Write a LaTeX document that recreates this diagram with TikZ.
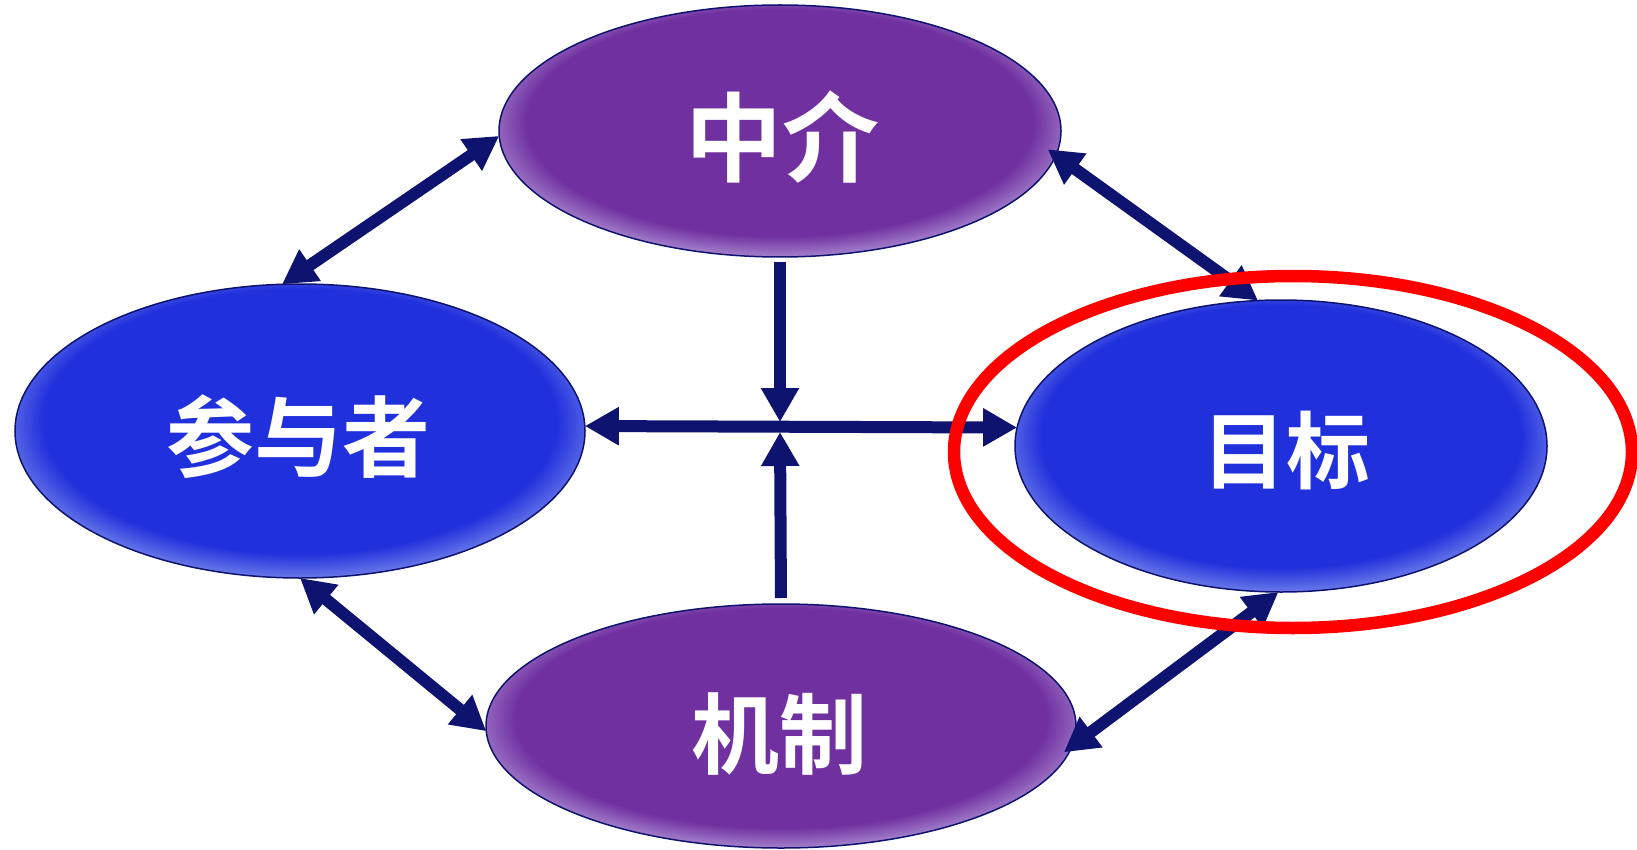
\documentclass[tikz,border=0pt]{standalone}
\usepackage{fontspec}
\newfontfamily\cjk{Noto Sans CJK SC Bold}
\usetikzlibrary{shapes.geometric,arrows.meta}
\definecolor{purpc}{RGB}{112,48,160}
\definecolor{purpl}{RGB}{192,172,228}
\definecolor{bluec}{RGB}{32,48,220}
\definecolor{bluel}{RGB}{145,160,240}
\definecolor{navy}{RGB}{13,19,110}
\definecolor{ringred}{RGB}{255,0,0}
\pgfdeclareradialshading{glowP}{\pgfpoint{0bp}{3bp}}{color(0bp)=(purpc); color(22.5bp)=(purpc); color(28.5bp)=(purpl); color(50bp)=(purpl)}
\pgfdeclareradialshading{glowB}{\pgfpoint{0bp}{3bp}}{color(0bp)=(bluec); color(22.5bp)=(bluec); color(28.5bp)=(bluel); color(50bp)=(bluel)}
\begin{document}
\begin{tikzpicture}[x=1pt,y=-1pt,
  blob/.style={ellipse, draw=navy, line width=1.5pt, inner sep=0pt, outer sep=0pt, shade},
  pblob/.style={blob, shading=glowP},
  bblob/.style={blob, shading=glowB},
  txt/.style={text=white, inner sep=0pt},
  arr/.style={draw=navy, line width=12pt, >={Triangle[length=34pt,width=36pt]}}]
\fill[white] (0,0) rectangle (1637,850);
\useasboundingbox (0,0) rectangle (1637,850);
% ellipses
\node[pblob, minimum width=562pt, minimum height=252pt] (mid) at (780,131) {};
\node[bblob, minimum width=570pt, minimum height=294pt] (par) at (300,431) {};
\node[bblob, minimum width=532pt, minimum height=292pt] (goal) at (1281,446) {};
\node[pblob, minimum width=590pt, minimum height=244pt] (mech) at (781,726) {};
% texts
\node[txt, font=\cjk\fontsize{97}{97}\selectfont] (tmid) at (782,137) {中介};
\node[txt, font=\cjk\fontsize{88}{88}\selectfont] (tpar) at (298,437) {参与者};
\node[txt, font=\cjk\fontsize{84}{84}\selectfont] (tgoal) at (1286,451) {目标};
\node[txt, font=\cjk\fontsize{88}{88}\selectfont] (tmech) at (779,734) {机制};
% cross
\coordinate (xtop) at (780,422);
\coordinate (xbot) at (780,432);
\draw[arr,->,shorten <=5pt] (mid.south) -- (xtop);
\draw[arr,->,shorten <=6pt] (mech.north) -- (xbot);
\draw[arr,<->] (par.1.5) -- (goal.176);
% diagonals
\draw[arr,<->] (mid.181) -- (par.97);
\draw[arr,<->,shorten <=-10pt] (mid.-5.4) -- (goal.99);
\draw[arr,<->] (par.-90) -- (mech.181);
\draw[arr,<->,shorten >=-10pt] (goal.-91) -- (mech.-4);
% highlight ring
\node[ellipse, draw=ringred, line width=12.5pt, inner sep=0pt, outer sep=0pt, minimum width=678pt, minimum height=352pt] (ring) at (1293,452) {};
\end{tikzpicture}
\end{document}
